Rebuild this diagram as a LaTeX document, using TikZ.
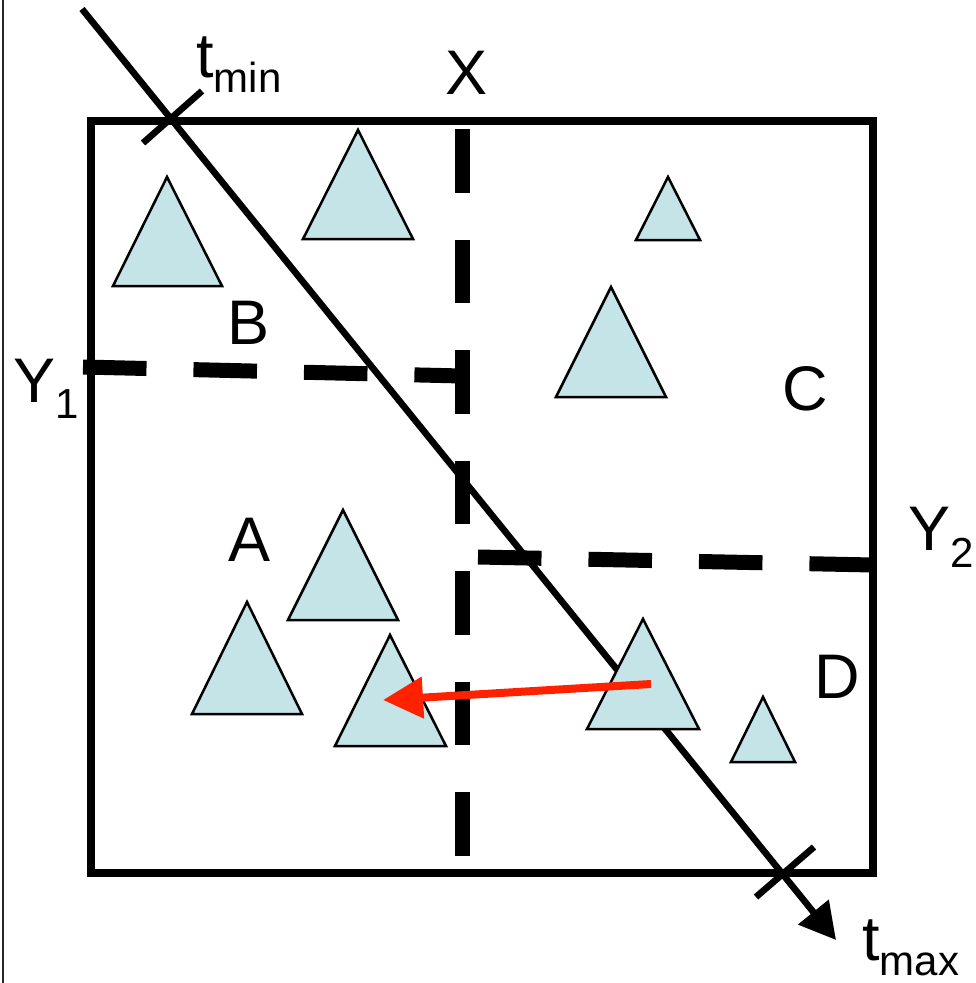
\documentclass[tikz,border=0pt]{standalone}
\usepackage{fontspec}
\setmainfont{Liberation Sans}
\usetikzlibrary{arrows.meta}
\definecolor{tricol}{RGB}{196,228,231}
\definecolor{arrred}{RGB}{255,34,0}
\newcommand\sublbl[3]{#1\raisebox{-#3pt}{\fontsize{42}{42}\selectfont #2}}
\begin{document}
\begin{tikzpicture}[x=1pt,y=-1pt,
  tri/.style={draw=black, line width=2.5pt, fill=tricol, line join=miter},
  dashline/.style={line width=15pt, dash pattern=on 63.5pt off 47pt},
  lab/.style={inner sep=0pt, font=\fontsize{63}{63}\selectfont},
  thickline/.style={line width=6.6pt}]
\useasboundingbox (0,0) rectangle (975,983);
% left thin frame line
\draw[line width=2pt, black!85] (3,0) -- (3,983);
% main box
\draw[line width=8pt] (91,121) rectangle (873,872.5);
% dashed partition lines
\coordinate (xtop) at (462,129);
\coordinate (xbot) at (462,860);
\draw[dashline] (xtop) -- (xbot);
\coordinate (y1l) at (83,367);
\coordinate (y1r) at (462,376);
\draw[dashline] (y1l) -- (y1r);
\coordinate (y2l) at (478,557);
\coordinate (y2r) at (873,565);
\draw[dashline] (y2l) -- (y2r);
% diagonal ray
\coordinate (dstart) at (82,9);
\coordinate (dend) at (836,940);
\draw[thickline, -{Triangle[length=36pt,width=38pt]}] (dstart) -- (dend);
% ticks
\coordinate (tk1a) at (143,143);
\coordinate (tk1b) at (202,91);
\draw[thickline] (tk1a) -- (tk1b);
\coordinate (tk2a) at (756,897);
\coordinate (tk2b) at (814,847);
\draw[thickline] (tk2a) -- (tk2b);
% triangles
\draw[tri] (167,177) -- (222,286) -- (113,286) -- cycle;
\draw[tri] (358,130) -- (413,239) -- (303,239) -- cycle;
\draw[tri] (668,177) -- (700,240) -- (636,240) -- cycle;
\draw[tri] (611,287) -- (666,397) -- (556,397) -- cycle;
\draw[tri] (343,510) -- (398,620) -- (288,620) -- cycle;
\draw[tri] (247,602) -- (302,714) -- (192,714) -- cycle;
\draw[tri] (390,635) -- (446,746) -- (335,746) -- cycle;
\draw[tri] (643,619) -- (699,729) -- (587,729) -- cycle;
\draw[tri] (763,697) -- (795,762) -- (731,762) -- cycle;
% red arrow
\coordinate (rs) at (651,684);
\coordinate (re) at (383,700);
\draw[arrred, line width=8pt, -{Triangle[length=40pt,width=40pt]}] (rs) -- (re);
% labels
\node[lab, anchor=base west] (tmin) at (196,77) {\sublbl{t}{min}{15}};
\node[lab, anchor=base west] (tmax) at (862,960) {\sublbl{t}{max}{15}};
\node[lab, anchor=base west] (y1) at (13,402) {\sublbl{Y}{1}{16}};
\node[lab, anchor=base west] (y2) at (908,550) {\sublbl{Y}{2}{17}};
\node[lab] (xl) at (467,73) {X};
\node[lab] (bl) at (249,322.5) {B};
\node[lab] (cl) at (805,389) {C};
\node[lab] (al) at (250,540) {A};
\node[lab] (dl) at (837,677) {D};
\end{tikzpicture}
\end{document}
